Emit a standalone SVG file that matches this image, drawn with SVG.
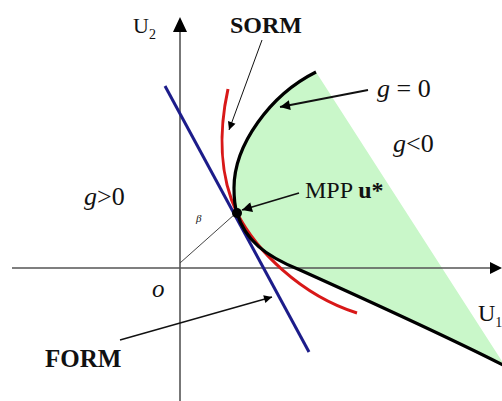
<svg xmlns="http://www.w3.org/2000/svg" width="502" height="401" viewBox="0 0 502 401">
<style>
.t{font-family:"Liberation Serif","Times New Roman",serif;fill:#111}
.b{font-weight:bold}
.i{font-style:italic}
.axis{stroke:#555;stroke-width:1.6;fill:none}
.lead{stroke:#111;fill:none}
</style>
<defs>
<marker id="ah" viewBox="0 0 10 10" refX="10" refY="5" markerWidth="13" markerHeight="10" markerUnits="userSpaceOnUse" orient="auto"><path d="M0,0 L10,5 L0,10 Z" fill="#000"/></marker>
<marker id="ahs" viewBox="0 0 10 10" refX="10" refY="5" markerWidth="11" markerHeight="8" markerUnits="userSpaceOnUse" orient="auto"><path d="M0,0 L10,5 L0,10 Z" fill="#000"/></marker>
</defs>
<rect width="502" height="401" fill="#fff"/>
<g id="failure-region">
<path d="M316,72 C270,95 234,145 234,188 C234,200 235,207 237,213 C245,240 265,256 300,270 C360,297 440,333 505,366 Z" fill="#c9f7c9" stroke="none"/>
</g>
<g id="axes">
<line class="axis" x1="12" y1="268" x2="492" y2="268"/>
<path d="M490,262 L502,268 L490,274 Z" fill="#000"/>
<line class="axis" x1="180" y1="401" x2="180" y2="30"/>
<path d="M173,32 L180,17 L187,32 Z" fill="#000"/>
</g>
<g id="curves">
<path id="form" d="M165,86 L309,352" stroke="#1c1c8a" stroke-width="3" fill="none"/>
<path id="sorm" d="M228,89 C219,130 219,175 237,213 C256,250 300,295 357,313" stroke="#d81818" stroke-width="3" fill="none"/>
<path id="limit" d="M316,72 C270,95 234,145 234,188 C234,200 235,207 237,213 C245,240 265,256 300,270 C360,297 440,333 505,366" stroke="#000" stroke-width="3.2" fill="none"/>
<line x1="180" y1="263" x2="235" y2="214" stroke="#444" stroke-width="1"/>
<circle id="mpp" cx="237" cy="213" r="5" fill="#000"/>
</g>
<g id="connectors">
<line class="lead" x1="262" y1="40" x2="229" y2="130" stroke-width="1" marker-end="url(#ahs)"/>
<line class="lead" x1="368" y1="90" x2="280" y2="107" stroke-width="2.2" marker-end="url(#ah)"/>
<line class="lead" x1="299" y1="193" x2="242" y2="210" stroke-width="1.8" marker-end="url(#ah)"/>
<line class="lead" x1="120" y1="340" x2="272" y2="297" stroke-width="1.3" marker-end="url(#ahs)"/>
</g>
<g id="labels">
<text class="t" x="133" y="33" font-size="22">U<tspan font-size="14" dy="6">2</tspan></text>
<text class="t b" x="230" y="33" font-size="24">SORM</text>
<text class="t" x="377" y="97" font-size="26"><tspan class="i">g</tspan> = 0</text>
<text class="t" x="393" y="152" font-size="26"><tspan class="i">g</tspan>&lt;0</text>
<text class="t" x="305" y="198" font-size="24">MPP <tspan class="b">u*</tspan></text>
<text class="t" x="84" y="205" font-size="26"><tspan class="i">g</tspan>&gt;0</text>
<text class="t i" x="196" y="222" font-size="11" fill="#555">β</text>
<text class="t i" x="152" y="297" font-size="25">o</text>
<text class="t b" x="45" y="367" font-size="25">FORM</text>
<text class="t" x="478" y="321" font-size="24">U<tspan font-size="14" dy="6">1</tspan></text>
</g>
</svg>
